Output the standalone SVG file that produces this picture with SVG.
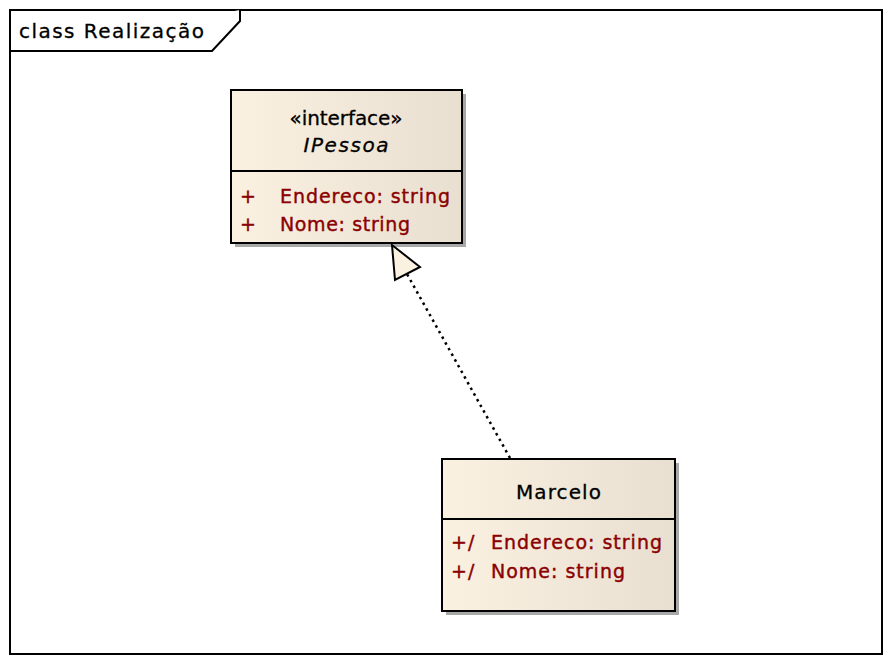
<svg xmlns="http://www.w3.org/2000/svg" width="893" height="662" viewBox="0 0 893 662">
<defs>
<linearGradient id="g" x1="0" y1="0" x2="1" y2="0">
<stop offset="0" stop-color="#FBF1E1"/>
<stop offset="1" stop-color="#E8DFD1"/>
</linearGradient>
<style>
.t{font-family:"DejaVu Sans",Verdana,sans-serif;font-size:20px;fill:#000;stroke:#000;stroke-width:0.3}
.a{font-family:"DejaVu Sans",Verdana,sans-serif;font-size:19px;fill:#8B0000;stroke:#8B0000;stroke-width:0.4;letter-spacing:1px}
.box{fill:url(#g);stroke:#000;stroke-width:2}
.sh{fill:#A8A8A8}
.ln{stroke:#000;stroke-width:2}
</style>
</defs>
<rect x="0" y="0" width="893" height="662" fill="#fff"/>
<g id="frame">
<rect x="10" y="10" width="872" height="644" fill="#fff" stroke="#000" stroke-width="2"/>
<path d="M10 51 H212 L240 21 V10" fill="#fff" stroke="#000" stroke-width="2"/>
<text class="t" x="19" y="38" textLength="185" lengthAdjust="spacing">class Realização</text>
</g>
<g id="IPessoa">
<rect class="sh" x="235" y="94" width="231" height="153"/>
<rect class="box" x="231" y="90" width="231" height="153"/>
<line class="ln" x1="231" y1="171" x2="462" y2="171"/>
<text class="t" x="346" y="125" text-anchor="middle" font-size="18" textLength="113" lengthAdjust="spacing">«interface»</text>
<text class="t" x="346" y="152" text-anchor="middle" font-style="italic" textLength="85" lengthAdjust="spacing">IPessoa</text>
<text class="a" x="240" y="203">+</text>
<text class="a" x="280" y="203" textLength="171" lengthAdjust="spacing">Endereco: string</text>
<text class="a" x="240" y="231">+</text>
<text class="a" x="280" y="231" textLength="131" lengthAdjust="spacing">Nome: string</text>
</g>
<g id="Marcelo">
<rect class="sh" x="446" y="463" width="233" height="152"/>
<rect class="box" x="442" y="459" width="233" height="152"/>
<line class="ln" x1="442" y1="519" x2="675" y2="519"/>
<text class="t" x="558.5" y="499" text-anchor="middle" textLength="85" lengthAdjust="spacing">Marcelo</text>
<text class="a" x="451" y="549">+/</text>
<text class="a" x="491" y="549" textLength="172" lengthAdjust="spacing">Endereco: string</text>
<text class="a" x="451" y="578">+/</text>
<text class="a" x="491" y="578" textLength="135" lengthAdjust="spacing">Nome: string</text>
</g>
<g id="connectors">
<line x1="510" y1="458" x2="407" y2="274" stroke="#000" stroke-width="2.5" stroke-dasharray="2.5,4"/>
<polygon points="392,245 420,267 395,280" fill="#FBF1E1" stroke="#000" stroke-width="2" stroke-linejoin="miter"/>
</g>
</svg>
